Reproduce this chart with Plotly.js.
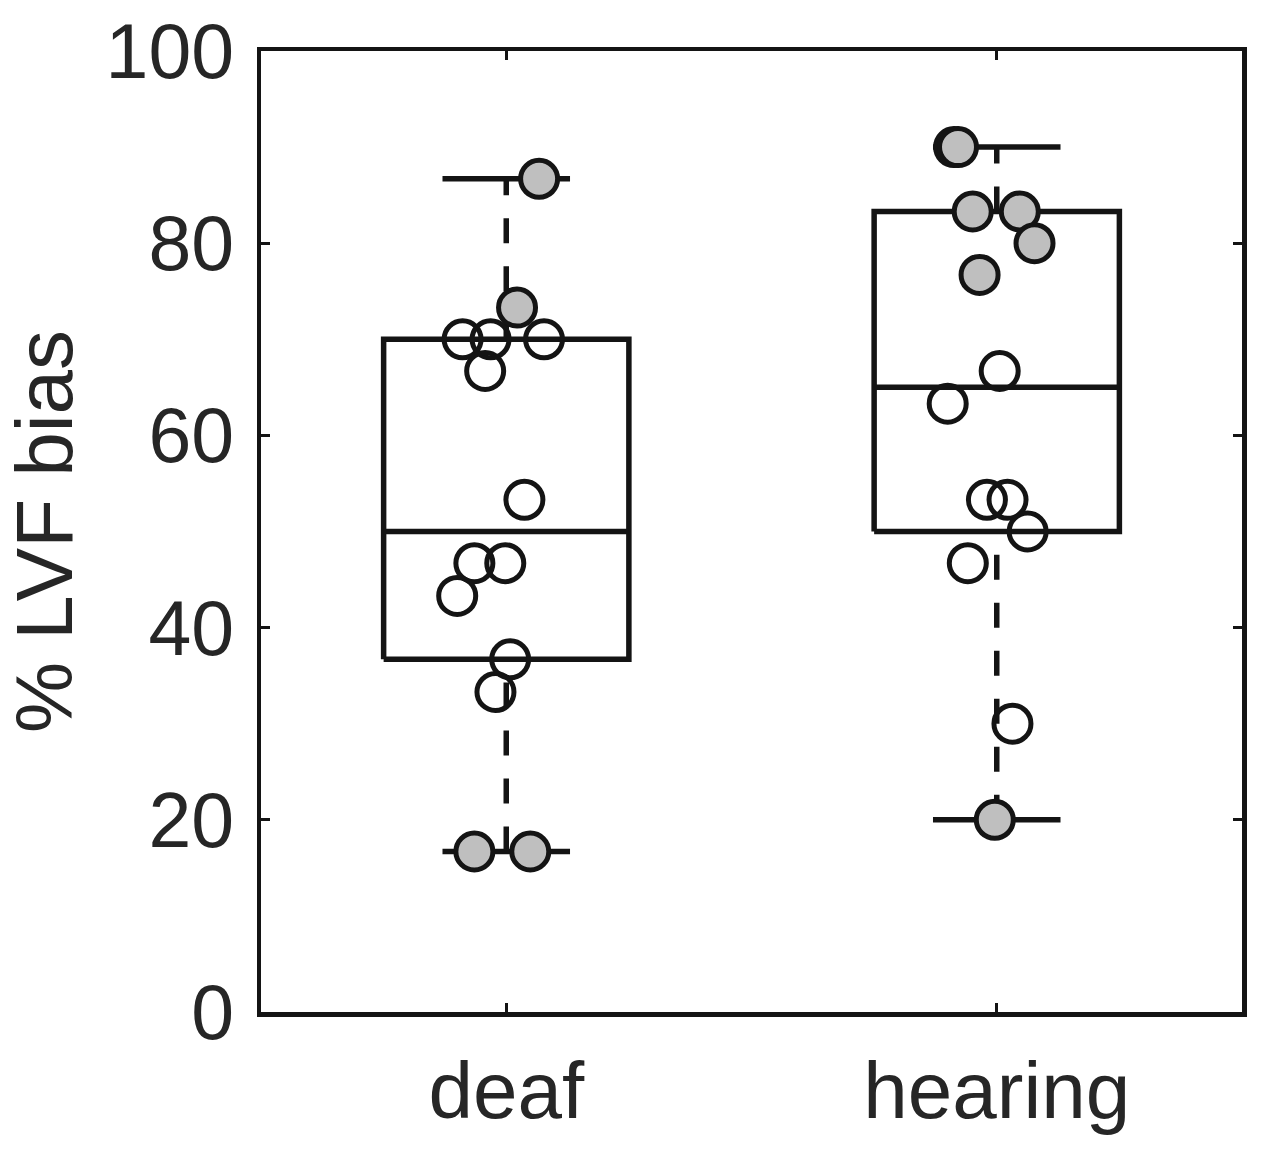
<!DOCTYPE html>
<html><head><meta charset="utf-8">
<script src="https://cdn.plot.ly/plotly-3.0.1.min.js"></script>
<style>html,body{margin:0;padding:0;background:#fff}#chart{width:1266px;height:1152px}</style>
</head><body><div id="chart"></div>
<script>
// ---- data ----
const groups = ['deaf', 'hearing'];
const groupPos = [1, 2];
const q1 = [36.7, 50];
const medians = [50, 65];
const q3 = [70, 83.3];
const whiskerLow = [16.7, 20];
const whiskerHigh = [86.7, 90];

const deafGrayY = [86.7, 73.3, 16.7, 16.7];
const deafGrayJitter = [0.067, 0.022, -0.065, 0.049];
const deafOpenY = [70, 70, 70, 66.7, 53.3, 46.7, 46.7, 43.3, 36.7, 33.3];
const deafOpenJitter = [-0.089, -0.032, 0.077, -0.043, 0.037, -0.065, -0.002, -0.1, 0.008, -0.022];

const hearingGrayY = [90, 90, 83.3, 83.3, 80, 76.7, 20];
const hearingGrayJitter = [-0.087, -0.079, -0.049, 0.047, 0.077, -0.035, -0.004];
const hearingOpenY = [66.7, 63.3, 53.3, 53.3, 50, 46.7, 30];
const hearingOpenJitter = [0.006, -0.1, -0.02, 0.022, 0.063, -0.059, 0.032];

const yTicks = [0, 20, 40, 60, 80, 100];

// ---- styling ----
const INK = '#141414';
const TXT = '#262626';
const FONT = 'Liberation Sans, Arial, Helvetica, sans-serif';
const BOX_HALF = 0.25;
const CAP_HALF = 0.13;
const LW = 5.5;

// build box geometry from the stats arrays
const boxX = [], boxY = [], medX = [], medY = [], whX = [], whY = [], capX = [], capY = [];
groupPos.forEach((p, i) => {
  boxX.push(p - BOX_HALF, p + BOX_HALF, p + BOX_HALF, p - BOX_HALF, p - BOX_HALF, null);
  boxY.push(q1[i], q1[i], q3[i], q3[i], q1[i], null);
  medX.push(p - BOX_HALF, p + BOX_HALF, null);
  medY.push(medians[i], medians[i], null);
  whX.push(p, p, null, p, p, null);
  whY.push(whiskerLow[i], q1[i], null, q3[i], whiskerHigh[i], null);
  capX.push(p - CAP_HALF, p + CAP_HALF, null, p - CAP_HALF, p + CAP_HALF, null);
  capY.push(whiskerLow[i], whiskerLow[i], null, whiskerHigh[i], whiskerHigh[i], null);
});

const lineTrace = (x, y, dash) => ({
  type: 'scatter', mode: 'lines', x, y, connectgaps: false, hoverinfo: 'skip',
  line: {color: INK, width: LW, dash: dash || 'solid'}, showlegend: false
});

const openMarkers = (pos, jit, ys) => ({
  type: 'scatter', mode: 'markers',
  x: jit.map(j => pos + j), y: ys, showlegend: false,
  marker: {symbol: 'circle-open', size: 37, color: INK, line: {width: 5, color: INK}}
});
const grayMarkers = (pos, jit, ys) => ({
  type: 'scatter', mode: 'markers',
  x: jit.map(j => pos + j), y: ys, showlegend: false,
  marker: {symbol: 'circle', size: 37, color: '#bfbfbf', line: {width: 5, color: INK}}
});

const data = [
  lineTrace(whX, whY, '25px,23px'),
  lineTrace(capX, capY),
  lineTrace(boxX, boxY),
  lineTrace(medX, medY),
  openMarkers(groupPos[0], deafOpenJitter, deafOpenY),
  openMarkers(groupPos[1], hearingOpenJitter, hearingOpenY),
  grayMarkers(groupPos[0], deafGrayJitter, deafGrayY),
  grayMarkers(groupPos[1], hearingGrayJitter, hearingGrayY)
];

const axisCommon = {
  showline: true, linecolor: INK, linewidth: 4.5, mirror: 'ticks',
  ticks: 'inside', ticklen: 9, tickwidth: 3, tickcolor: INK,
  showgrid: false, zeroline: false, fixedrange: true
};

const layout = {
  width: 1266, height: 1152,
  paper_bgcolor: '#ffffff', plot_bgcolor: '#ffffff',
  margin: {l: 261, r: 24, t: 51, b: 140},
  showlegend: false,
  font: {family: FONT, color: TXT},
  xaxis: Object.assign({}, axisCommon, {
    range: [0.5, 2.5], tickmode: 'array', tickvals: groupPos, ticktext: groups,
    tickfont: {family: FONT, size: 80, color: TXT},
    ticklabelstandoff: 5
  }),
  yaxis: Object.assign({}, axisCommon, {
    range: [0, 100], tickmode: 'array', tickvals: yTicks,
    ticktext: yTicks.map(String),
    tickfont: {family: FONT, size: 77, color: TXT},
    ticklabelstandoff: 7,
    title: {text: '% LVF bias', font: {family: FONT, size: 80, color: TXT}, standoff: 32}
  })
};

Plotly.newPlot('chart', data, layout, {displayModeBar: false, staticPlot: true});
</script>
</body></html>
